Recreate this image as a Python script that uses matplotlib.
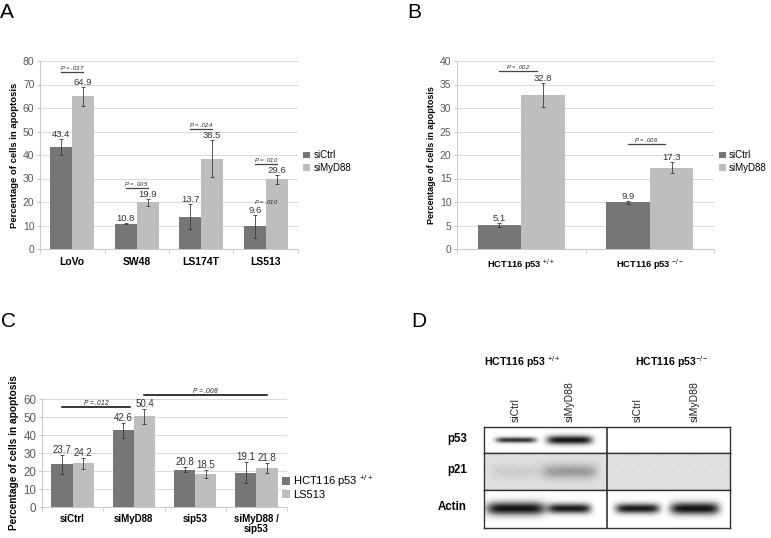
import numpy as np
import matplotlib
matplotlib.use('Agg')
import matplotlib.pyplot as plt
import matplotlib.transforms as mtrans

plt.rcParams['font.family'] = ['Liberation Sans', 'DejaVu Sans']
plt.rcParams['mathtext.fontset'] = 'custom'
plt.rcParams['mathtext.rm'] = 'Liberation Sans'
plt.rcParams['mathtext.it'] = 'Liberation Sans:italic'
plt.rcParams['mathtext.bf'] = 'Liberation Sans:bold'

W, H = 771, 538

# panel A
a_lines = ['LoVo', 'SW48', 'LS174T', 'LS513']
a_ctrl = [43.4, 10.8, 13.7, 9.6]
a_ctrl_err = [3.3, 0.3, 5.3, 5.0]
a_myd = [64.9, 19.9, 38.5, 29.6]
a_myd_err = [4.1, 1.5, 8.0, 1.8]
a_p = ['.037', '.005', '.024', '.010']
a_p_height = [75.5, 26.0, 51.0, 36.2]

# panel B
b_lines = [r'HCT116 p53 $^{+/+}$', r'HCT116 p53 $^{-/-}$']
b_ctrl = [5.1, 9.9]
b_ctrl_err = [0.5, 0.3]
b_myd = [32.8, 17.3]
b_myd_err = [2.6, 1.2]
b_p = ['.002', '.006']
b_p_height = [37.8, 22.3]

# panel C
c_groups = ['siCtrl', 'siMyD88', 'sip53', 'siMyD88 /\nsip53']
c_hct = [23.7, 42.6, 20.8, 19.1]
c_hct_err = [5.2, 4.3, 1.4, 5.8]
c_ls = [24.2, 50.4, 18.5, 21.8]
c_ls_err = [3.2, 4.3, 2.3, 2.8]

# panel D (band darkness per lane, 0 = none)
d_lanes = ['siCtrl', 'siMyD88', 'siCtrl', 'siMyD88']
lane_pos = [0.52, 1.39, 2.5, 3.43]
p53_band = [0.85, 0.98, 0.0, 0.0]
p53_width = [0.33, 0.37, 0.3, 0.3]
p53_thick = [0.11, 0.17, 0.1, 0.1]
p21_band = [0.07, 0.28, 0.0, 0.0]
p21_width = [0.4, 0.45, 0.4, 0.4]
p21_thick = [0.22, 0.2, 0.2, 0.2]
actin_band = [0.98, 0.95, 0.95, 0.98]
actin_width = [0.48, 0.35, 0.36, 0.4]
actin_thick = [0.17, 0.13, 0.13, 0.16]
row_bg = [0.0, 0.13, 0.0]

DARK = '#767676'
LIGHT = '#bebebe'

fig = plt.figure(figsize=(W / 100, H / 100), dpi=100)


def px(l, t, r, b):
    return [l / W, 1 - b / H, (r - l) / W, (b - t) / H]


def style_axes(ax, n, ymax, step, tsize):
    ax.set_xlim(-0.5, n - 0.5)
    ax.set_ylim(0, ymax)
    ax.set_yticks(np.arange(0, ymax + step / 2, step))
    ax.grid(axis='y', color='#d9d9d9', lw=0.7)
    ax.set_axisbelow(True)
    for s in ['top', 'right']:
        ax.spines[s].set_visible(False)
    for s in ['left', 'bottom']:
        ax.spines[s].set_color('#c8c8c8')
        ax.spines[s].set_linewidth(0.7)
    ax.set_xticks(np.arange(n))
    ax.set_xticks(np.arange(n + 1) - 0.5, minor=True)
    ax.tick_params(axis='x', which='major', length=0, pad=6)
    ax.tick_params(axis='x', which='minor', length=3, color='#c8c8c8')
    ax.tick_params(axis='y', length=2, color='#c8c8c8', labelsize=tsize,
                   labelcolor='#595959', pad=2)


def draw_bars(ax, v1, e1, v2, e2, w, lsize):
    x = np.arange(len(v1))
    b1 = ax.bar(x - w / 2, v1, w, color=DARK, zorder=2)
    b2 = ax.bar(x + w / 2, v2, w, color=LIGHT, zorder=2)
    for xs, v, e in [(x - w / 2, v1, e1), (x + w / 2, v2, e2)]:
        ax.errorbar(xs, v, yerr=e, fmt='none', ecolor='#3a3a3a',
                    elinewidth=0.6, capsize=1.2, capthick=0.6, zorder=3)
        for xi, vi, ei in zip(xs, v, e):
            ax.annotate(f'{vi}', (xi, vi + ei), xytext=(0, 0),
                        textcoords='offset points', ha='center', va='bottom',
                        fontsize=lsize, color='#333333', zorder=4)
    return x, [b1, b2]


def p_label(ax, x0, x1, h, p, size, color, lw):
    ax.plot([x0, x1], [h, h], color=color, lw=lw, clip_on=False, zorder=4)
    ax.text((x0 + x1) / 2, h, r'$\it{P}$ = ' + p, ha='center', va='bottom',
            fontsize=size, style='italic', color='#222222')


# ---------- A ----------
axA = fig.add_axes(px(40, 61, 298, 249))
style_axes(axA, 4, 80, 10, 7.5)
w = 0.34
x, bars = draw_bars(axA, a_ctrl, a_ctrl_err, a_myd, a_myd_err, w, 6.8)
axA.set_xticklabels(a_lines, fontweight='bold', fontsize=7.5)
for xi, h, p in zip(x, a_p_height, a_p):
    p_label(axA, xi - w / 2, xi + w / 2, h, p, 4.3, '#444444', 0.9)
axA.text(x[3], 19.8, r'$\it{P}$ = .010', ha='center', va='center',
         fontsize=4.3, style='italic', color='#222222')
axA.set_ylabel('Percentage of cells in apoptosis', fontsize=6.8,
               fontweight='bold', labelpad=3)
axA.legend(bars, ['siCtrl', 'siMyD88'], loc='center left',
           bbox_to_anchor=(1.02, 0.465), frameon=False, fontsize=7,
           handlelength=0.7, handleheight=0.7, handletextpad=0.4,
           labelspacing=0.25, borderpad=0, borderaxespad=0)

# ---------- B ----------
axB = fig.add_axes(px(457, 61, 714, 249))
style_axes(axB, 2, 40, 5, 7.5)
x, bars = draw_bars(axB, b_ctrl, b_ctrl_err, b_myd, b_myd_err, w, 6.8)
axB.set_xticklabels(b_lines, fontweight='bold', fontsize=6.7)
for xi, h, p in zip(x, b_p_height, b_p):
    p_label(axB, xi - w / 2, xi + w / 2 - 0.05, h, p, 4.3, '#444444', 0.9)
axB.set_ylabel('Percentage of cells in apoptosis', fontsize=6.5,
               fontweight='bold', labelpad=3)
axB.legend(bars, ['siCtrl', 'siMyD88'], loc='center left',
           bbox_to_anchor=(1.02, 0.465), frameon=False, fontsize=7,
           handlelength=0.7, handleheight=0.7, handletextpad=0.3,
           labelspacing=0.25, borderpad=0, borderaxespad=0)

# ---------- C ----------
axC = fig.add_axes(px(42, 399, 287, 507))
style_axes(axC, 4, 60, 10, 8.3)
wc = 0.345
x, bars = draw_bars(axC, c_hct, c_hct_err, c_ls, c_ls_err, wc, 7)
axC.set_xticklabels(c_groups, fontweight='bold', fontsize=7,
                    linespacing=1.0)
axC.tick_params(axis='x', which='major', pad=5)
p_label(axC, x[0] - wc / 2, x[1] - 0.06, 55.6, '.012', 4.8, 'black', 1.1)
p_label(axC, x[1] + wc / 2, x[3] + wc / 2, 62.2, '.008', 4.8, 'black', 1.1)
axC.set_ylabel('Percentage of cells in apoptosis', fontsize=7.3,
               fontweight='bold', labelpad=3)
axC.legend(bars, [r'HCT116 p53 $^{+/+}$', 'LS513'], loc='center left',
           bbox_to_anchor=(0.98, 0.19), frameon=False, fontsize=8,
           handlelength=0.7, handleheight=0.7, handletextpad=0.3,
           labelspacing=0.15, borderpad=0, borderaxespad=0)

# ---------- D (western blot) ----------
rows = [('p53', 427, 453, p53_band, p53_width, p53_thick),
        ('p21', 453, 490, p21_band, p21_width, p21_thick),
        ('Actin', 490, 528, actin_band, actin_width, actin_thick)]
gx = np.linspace(0, 4, 500)
gy = np.linspace(0, 1, 60)
X, Y = np.meshgrid(gx, gy)
tex = np.sin(X * 37.0) * np.cos(Y * 23.0) * 0.01
for i, (name, top, bot, band, bw, bt) in enumerate(rows):
    ax = fig.add_axes(px(484, top, 730, bot))
    img = np.full_like(X, row_bg[i])
    for c, d, hw, th in zip(lane_pos, band, bw, bt):
        if d > 0:
            img = img + d * np.exp(-((X - c) / hw) ** 6) * \
                np.exp(-((Y - 0.5) / th) ** 2)
    if row_bg[i] > 0:
        img = img + tex
    ax.imshow(np.clip(img, 0, 1), cmap='gray_r', vmin=0, vmax=1.05,
              extent=[0, 4, 0, 1], aspect='auto', origin='lower',
              interpolation='bilinear')
    ax.axvline(2.0, color='#222222', lw=1.1)
    ax.set_xlim(0, 4)
    ax.set_ylim(0, 1)
    ax.set_xticks([])
    ax.set_yticks([])
    for s in ax.spines.values():
        s.set_color('#333333')
        s.set_linewidth(1.0)
    ax.text(-0.07, 0.55, name, transform=ax.transAxes, ha='right',
            va='center', fontsize=8.3, fontweight='bold')
    if i == 0:
        tr = mtrans.blended_transform_factory(ax.transData, ax.transAxes)
        for lp, lab in zip(lane_pos, d_lanes):
            ax.text(lp, 1.2, lab, transform=tr, rotation=90, ha='center',
                    va='bottom', fontsize=7.5, color='#222222')

fig.text(484 / W, 1 - 362 / H, r'$\mathbf{HCT116\ p53}$ $^{+/+}$',
         fontsize=7.6, va='center', ha='left')
fig.text(635 / W, 1 - 362 / H, r'$\mathbf{HCT116\ p53}^{-/-}$',
         fontsize=7.6, va='center', ha='left')

# panel letters
for lab, lx, ly in [('A', 0, 3), ('B', 407, 3), ('C', 1, 312), ('D', 411, 312)]:
    fig.text(lx / W, 1 - ly / H, lab, fontsize=15, va='top', ha='left')

fig.savefig('out.png', dpi=100)
